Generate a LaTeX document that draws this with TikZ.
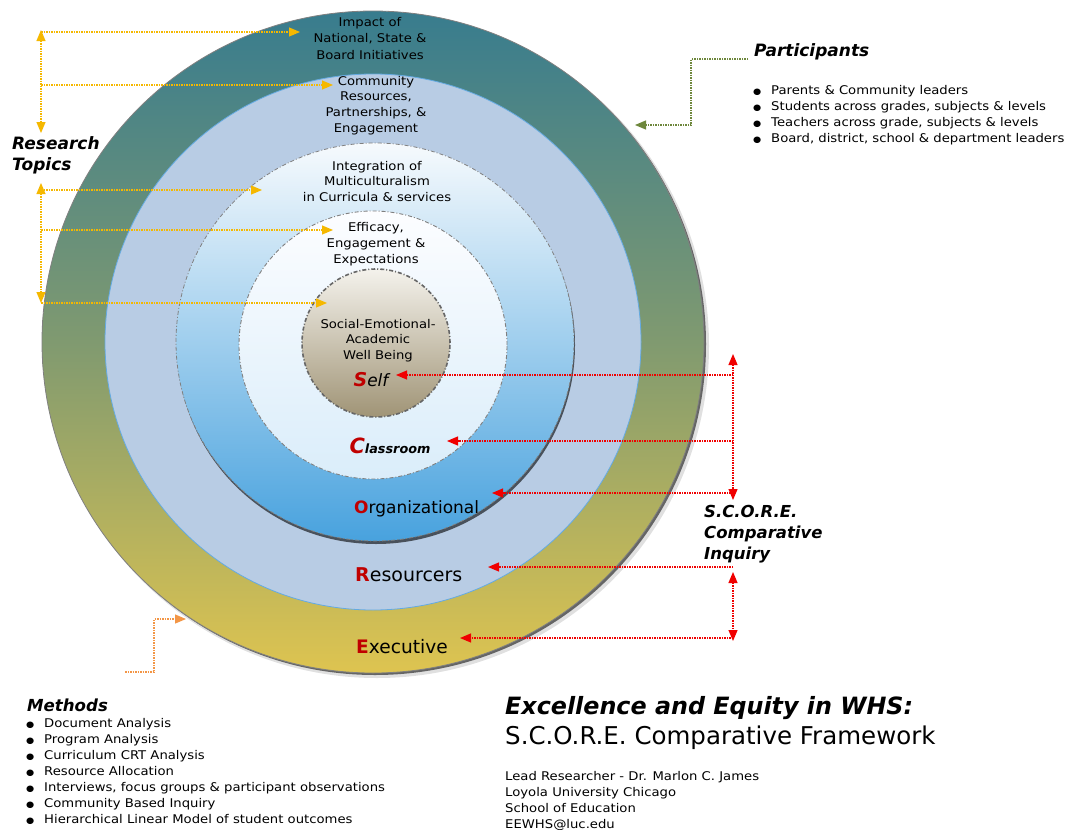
\documentclass[tikz,border=0pt]{standalone}
\usepackage{fontspec}
\setmainfont{DejaVu Sans}
\newfontfamily\wide{DejaVu Sans}[FakeStretch=1.1]
\usetikzlibrary{arrows.meta}
\definecolor{tealA}{RGB}{56,124,142}
\definecolor{sageA}{RGB}{128,154,112}
\definecolor{goldA}{RGB}{222,196,80}
\definecolor{ringB}{RGB}{184,204,228}
\definecolor{ringBline}{RGB}{100,170,225}
\definecolor{blueTop}{RGB}{246,250,253}
\definecolor{blueBot}{RGB}{72,162,222}
\definecolor{paleTop}{RGB}{252,253,255}
\definecolor{paleBot}{RGB}{218,237,250}
\definecolor{selfTop}{RGB}{244,242,236}
\definecolor{selfBot}{RGB}{160,148,118}
\definecolor{redS}{RGB}{192,0,0}
\definecolor{arrRed}{RGB}{240,0,0}
\definecolor{arrYel}{RGB}{245,184,0}
\definecolor{arrOlive}{RGB}{110,135,60}
\definecolor{arrOrange}{RGB}{243,150,70}
\pgfdeclareverticalshading{outerring}{100bp}{color(0bp)=(goldA); color(25bp)=(goldA); color(50bp)=(sageA); color(75bp)=(tealA); color(100bp)=(tealA)}
\newcommand\blt{\makebox[19pt][l]{\hspace{1pt}\fontsize{8.5}{0}\selectfont ●}}
\tikzset{
  ringtext/.style={align=center, font=\wide\fontsize{12}{15.8}\selectfont, inner sep=0pt},
  headtext/.style={align=left, anchor=west, font=\fontsize{16.5}{21}\selectfont\bfseries\itshape, inner sep=0pt},
  listtext/.style={align=left, anchor=north west, font=\wide\fontsize{12}{16}\selectfont, inner sep=0pt},
  dashdotline/.style={dash pattern=on 4pt off 2pt on 1pt off 2pt},
  conn/.style={line width=1.2pt, dash pattern=on 1.5pt off 1pt, >={Triangle[length=11pt,width=9pt]}},
  yarrow/.style={conn, draw=arrYel},
  rarrow/.style={conn, draw=arrRed},
  oarrow/.style={conn, draw=arrOlive},
  narrow/.style={conn, draw=arrOrange},
}
\begin{document}
\begin{tikzpicture}[x=1pt,y=-1pt]
\useasboundingbox[fill=white] (0,0) rectangle (1071,830);
\coordinate (C) at (373,342);
% outer ring
\fill[black,opacity=0.12] (377,346) circle[radius=332pt];
\fill[black,opacity=0.55] (375,344) circle[radius=331pt];
\path[shading=outerring, draw=gray, line width=0.8pt] (C) circle[radius=331pt];
% second ring
\path[fill=ringB, draw=ringBline, line width=0.8pt] (C) circle[radius=268pt];
% third ring
\fill[black,opacity=0.6] (376,345) circle[radius=199pt];
\path[top color=blueTop, bottom color=blueBot] (375,342) circle[radius=199pt];
\draw[gray, line width=0.8pt, dashdotline] (375,342) circle[radius=199pt];
% fourth ring
\path[top color=paleTop, bottom color=paleBot, draw=gray, line width=0.9pt, dashdotline] (373,345) circle[radius=134pt];
% self
\path[top color=selfTop, bottom color=selfBot, draw=gray!80!black, line width=1.6pt, dashdotline] (376,343) circle[radius=74pt];

% ring texts
\node[ringtext, font=\wide\fontsize{12}{16.4}\selectfont] (impact) at (370,38.5) {Impact of\\National, State \&\\Board Initiatives};
\node[ringtext] (community) at (376,105.5) {Community\\Resources,\\Partnerships, \&\\Engagement};
\node[ringtext] (integration) at (377,181.5) {Integration of\\Multiculturalism\\in Curricula \& services};
\node[ringtext] (efficacy) at (376,244) {Efficacy,\\Engagement \&\\Expectations};
\node[ringtext] (sewb) at (378,340.5) {Social-Emotional-\\Academic\\Well Being};
\node[inner sep=0pt, font=\fontsize{17}{17}\selectfont\itshape] (self) at (371,380) {\textcolor{redS}{\bfseries\fontsize{19}{19}\selectfont S}elf};
\node[inner sep=0pt, font=\fontsize{12.8}{12.8}\selectfont\bfseries\itshape, anchor=base] (classroom) at (390,453) {\textcolor{redS}{\fontsize{21}{21}\selectfont C}lassroom};
\node[inner sep=0pt, font=\fontsize{17}{17}\selectfont, anchor=base west] (organizational) at (354,513) {\textcolor{redS}{\bfseries O}rganizational};
\node[inner sep=0pt, font=\fontsize{19}{19}\selectfont, anchor=base west] (resourcers) at (355,581) {\textcolor{redS}{\bfseries R}esourcers};
\node[inner sep=0pt, font=\fontsize{18.6}{18.6}\selectfont, anchor=base west] (executive) at (356,653) {\textcolor{redS}{\bfseries E}xecutive};

% headings
\node[headtext, font=\fontsize{17}{21}\selectfont\bfseries\itshape] (research) at (12,155.5) {Research\\Topics};
\node[headtext, font=\fontsize{17}{20}\selectfont\bfseries\itshape] (participants) at (754,52) {Participants};
\node[headtext] (score) at (704,534) {S.C.O.R.E.\\Comparative\\Inquiry};
\node[headtext, font=\fontsize{16.6}{20}\selectfont\bfseries\itshape] (methods) at (27,705) {Methods};

% lists
\node[listtext] (plist) at (752,85) {%
\blt Parents \& Community leaders\\
\blt Students across grades, subjects \& levels\\
\blt Teachers across grade, subjects \& levels\\
\blt Board, district, school \& department leaders};
\node[listtext] (mlist) at (25,718) {%
\blt Document Analysis\\
\blt Program Analysis\\
\blt Curriculum CRT Analysis\\
\blt Resource Allocation\\
\blt Interviews, focus groups \& participant observations\\
\blt Community Based Inquiry\\
\blt Hierarchical Linear Model of student outcomes};

% title block
\node[inner sep=0pt, anchor=west, font=\fontsize{23.8}{24}\selectfont\bfseries\itshape] (title) at (505,708) {Excellence and Equity in WHS:};
\node[inner sep=0pt, anchor=west, font=\fontsize{24.5}{25}\selectfont] (subtitle) at (505,738) {S.C.O.R.E. Comparative Framework};
\node[listtext] (credits) at (505,771) {Lead Researcher - Dr. Marlon C. James\\Loyola University Chicago\\School of Education\\EEWHS@luc.edu};

% yellow research-topic connectors
\coordinate (ya) at (41,30);
\coordinate (yb) at (41,133);
\coordinate (y1s) at (41,32);
\coordinate (y1e) at (300,32);
\coordinate (y2s) at (41,85);
\coordinate (y2e) at (333,85);
\coordinate (yc) at (41,183);
\coordinate (yd) at (41,303);
\coordinate (y3s) at (41,190);
\coordinate (y3e) at (262,190);
\coordinate (y4s) at (41,230);
\coordinate (y4e) at (333,230);
\coordinate (y5s) at (41,303);
\coordinate (y5e) at (327,303);
\draw[yarrow, <->] (ya) -- (yb);
\draw[yarrow, ->] (y1s) -- (y1e);
\draw[yarrow, ->] (y2s) -- (y2e);
\draw[yarrow, <->] (yc) -- (yd);
\draw[yarrow, ->] (y3s) -- (y3e);
\draw[yarrow, ->] (y4s) -- (y4e);
\draw[yarrow, ->] (y5s) -- (y5e);

% red S.C.O.R.E. connectors
\coordinate (ra) at (733,354);
\coordinate (rb) at (733,500);
\coordinate (rc) at (733,572);
\coordinate (rd) at (733,641);
\coordinate (r1) at (733,375);
\coordinate (r2) at (733,441);
\coordinate (r3) at (733,493);
\coordinate (r4) at (733,567);
\coordinate (r5) at (733,638);
\coordinate (t1) at (396,375);
\coordinate (t2) at (447,441);
\coordinate (t3) at (492,493);
\coordinate (t4) at (488,567);
\coordinate (t5) at (460,638);
\draw[rarrow, <->] (ra) -- (rb);
\draw[rarrow, <->] (rc) -- (rd);
\draw[rarrow, ->] (r1) -- (t1);
\draw[rarrow, ->] (r2) -- (t2);
\draw[rarrow, ->] (r3) -- (t3);
\draw[rarrow, ->] (r4) -- (t4);
\draw[rarrow, ->] (r5) -- (t5);

% participants connector
\coordinate (ps) at (748,59);
\coordinate (pe) at (635,125);
\draw[oarrow, ->] (ps) -- (691,59) -- (691,125) -- (pe);

% methods connector
\coordinate (ms) at (125,672);
\coordinate (me) at (186,619);
\draw[narrow, ->] (ms) -- (154,672) -- (154,619) -- (me);
\end{tikzpicture}
\end{document}
